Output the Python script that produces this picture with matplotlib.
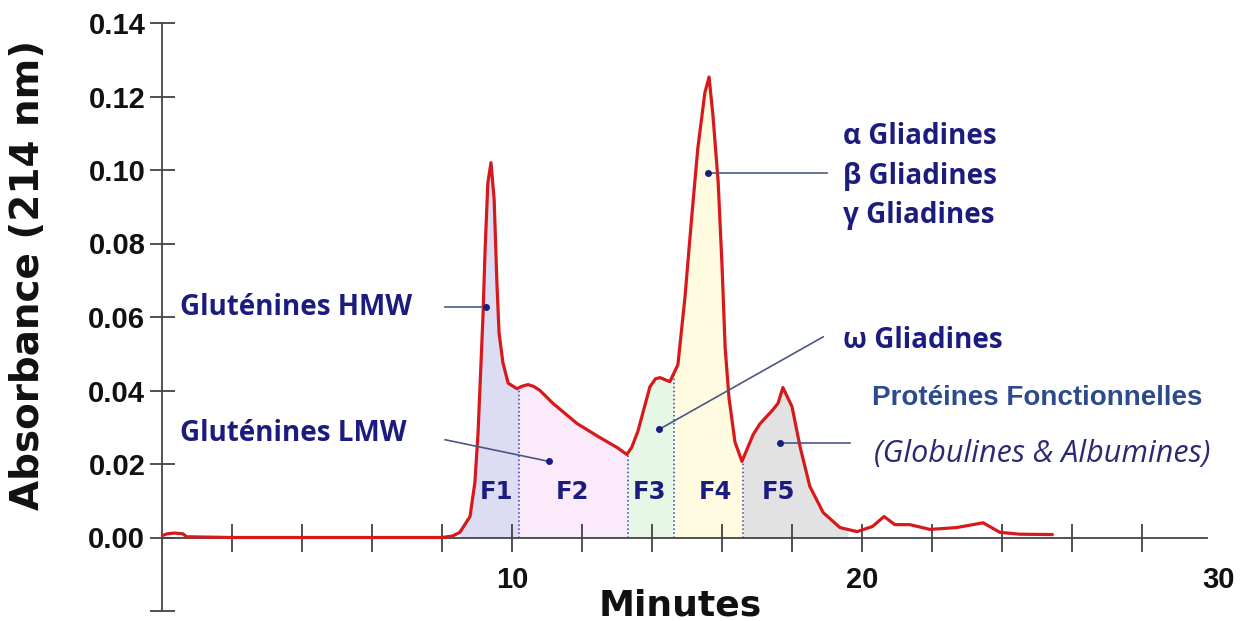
import numpy as np
import matplotlib
matplotlib.use('Agg')
import matplotlib.pyplot as plt

# chromatogram trace (minutes, absorbance at 214 nm)
minutes = [0.0, 0.15, 0.35, 0.6, 0.7, 2.0, 4.0, 6.0, 8.0, 8.3, 8.51, 8.8, 8.94, 9.03,
           9.09, 9.17, 9.23, 9.31, 9.4, 9.49, 9.57, 9.63, 9.74, 9.89, 10.14, 10.3,
           10.46, 10.62, 10.8, 11.17, 11.86, 12.51, 13.0, 13.28, 13.42, 13.6, 13.94,
           14.1, 14.23, 14.51, 14.74, 14.94, 15.14, 15.31, 15.51, 15.63, 15.74, 15.89,
           16.0, 16.09, 16.2, 16.37, 16.57, 16.89, 17.09, 17.43, 17.6, 17.74, 18.0,
           18.23, 18.51, 18.89, 19.37, 19.86, 20.3, 20.63, 20.94, 21.37, 21.94, 22.7,
           23.46, 23.94, 24.5, 25.43]
absorb = [0.0005, 0.0010, 0.0012, 0.0010, 0.0002, 0.0, 0.0, 0.0, 0.0, 0.0004, 0.0014,
          0.0057, 0.015, 0.0285, 0.042, 0.060, 0.078, 0.0965, 0.102, 0.092, 0.069,
          0.0557, 0.0476, 0.042, 0.0405, 0.0412, 0.0416, 0.0411, 0.0400, 0.0365,
          0.0310, 0.0272, 0.0245, 0.0226, 0.0245, 0.0290, 0.0410, 0.0432, 0.0435,
          0.0424, 0.047, 0.0652, 0.0878, 0.106, 0.121, 0.1253, 0.115, 0.0968, 0.0742,
          0.0516, 0.038, 0.026, 0.0207, 0.028, 0.031, 0.0345, 0.0365, 0.0408, 0.0356,
          0.0247, 0.0139, 0.0068, 0.0027, 0.0016, 0.003, 0.0057, 0.0035, 0.0035,
          0.0022, 0.0027, 0.004, 0.0014, 0.0009, 0.0008]

# fraction limits (minutes) and labels
fractions = ['F1', 'F2', 'F3', 'F4', 'F5']
frac_bounds = [8.5, 10.2, 13.3, 14.63, 16.6, 19.6]
frac_label_x = [9.57, 11.74, 13.94, 15.8, 17.6]
frac_colors = ['#dcdcf3', '#fbeafa', '#e6f7e6', '#fefbe0', '#e2e2e2']

# annotations: text, text anchor, line start, dot position
notes_text = ['Gluténines HMW', 'Gluténines LMW', 'α Gliadines', 'β Gliadines',
              'γ Gliadines', 'ω Gliadines']
notes_xy = [(0.51, 0.0625), (0.51, 0.0282), (19.46, 0.1090), (19.46, 0.0981),
            (19.46, 0.0875), (19.46, 0.0535)]
line_start = [(8.09, 0.0628), (8.09, 0.0266), (19.0, 0.0992), (18.89, 0.0546), (19.66, 0.0258)]
dots = [(9.26, 0.0628), (11.06, 0.0207), (15.6, 0.0992), (14.2, 0.0294), (17.66, 0.0258)]

x_ticks = list(range(2, 30, 2))
x_labels = ['10', '20', '30']
y_ticks = [0.0, 0.02, 0.04, 0.06, 0.08, 0.10, 0.12, 0.14]

navy = '#1c1c7e'

fig = plt.figure(figsize=(12.44, 6.21), dpi=100)
ax = fig.add_axes([162 / 1244, 10 / 621, 1050 / 1244, 588 / 621])
ax.set_xlim(0, 30)
ax.set_ylim(-0.02, 0.14)

mx = np.array(minutes)
my = np.array(absorb)

# coloured fractions under the curve
for i, c in enumerate(frac_colors):
    a, b = frac_bounds[i], frac_bounds[i + 1]
    inside = (mx > a) & (mx < b)
    xs = np.concatenate([[a], mx[inside], [b]])
    ys = np.interp(xs, mx, my)
    ax.fill_between(xs, 0, ys, color=c, lw=0, zorder=1)
    ax.text(frac_label_x[i], 0.0125, fractions[i], ha='center', va='center',
            fontsize=17.5, fontweight='bold', color=navy, zorder=4)

# dotted separators between fractions
for b in frac_bounds[1:-1]:
    ax.plot([b, b], [0, np.interp(b, mx, my)], ls=':', color='#3a3ab0', lw=1.1, zorder=2)

ax.plot(mx, my, color='#d7191c', lw=2.3, zorder=5, solid_joinstyle='round')

# annotation lines and dots
for (x0, y0), (x1, y1) in zip(line_start, dots):
    ax.plot([x0, x1], [y0, y1], color='#4b5685', lw=1.2, zorder=6)
    ax.plot(x1, y1, 'o', color=navy, ms=4, zorder=7)

for t, (x, y) in zip(notes_text, notes_xy):
    ax.text(x, y, t, ha='left', va='center', fontsize=20, fontweight='bold',
            color=navy, family=['Open Sans', 'DejaVu Sans'], zorder=8)

ax.text(25.0, 0.038, 'Protéines Fonctionnelles', ha='center', va='center', fontsize=20,
        fontweight='bold', color='#2c4a8c', family='Liberation Sans', zorder=8)
ax.text(25.14, 0.0226, '(Globulines & Albumines)', ha='center', va='center', fontsize=22,
        style='italic', color='#2a2a72', family=['Open Sans', 'DejaVu Sans'], zorder=8)

# axes styling: y axis on the left, x axis at zero
for s in ['top', 'right']:
    ax.spines[s].set_visible(False)
ax.spines['bottom'].set_position(('data', 0))
ax.spines['bottom'].set_bounds(0, 29.85)
ax.spines['left'].set_bounds(-0.02, 0.14)
for s in ['left', 'bottom']:
    ax.spines[s].set_color('#444444')
    ax.spines[s].set_linewidth(1.3)
    ax.spines[s].set_zorder(3)

ax.set_xticks(x_ticks)
ax.set_xticklabels([])
ax.tick_params(axis='x', direction='inout', length=20, width=1.2, color='#333333')
for lab, xv in zip(x_labels, [10, 20, 30.2]):
    ax.text(xv, -0.0115, lab, ha='center', va='center', fontsize=21, fontweight='bold',
            family='Liberation Sans', color='#111111')

ax.set_yticks([-0.02] + y_ticks)
ax.set_yticklabels([''] + ['%.2f' % v for v in y_ticks])
ax.tick_params(axis='y', direction='inout', length=18, width=1.2, color='#333333', pad=3)
for lab in ax.get_yticklabels():
    lab.set_fontsize(21)
    lab.set_fontweight('bold')
    lab.set_family('Liberation Sans')
    lab.set_color('#111111')

fig.text(28 / 1244, 1 - 275 / 621, 'Absorbance (214 nm)', rotation=90, ha='center',
         va='center', fontsize=28, fontweight='bold', color='#111111')
fig.text(680 / 1244, 1 - 606 / 621, 'Minutes', ha='center', va='center', fontsize=26,
         fontweight='bold', color='#111111')

fig.savefig('out.png', dpi=100, facecolor='white')
